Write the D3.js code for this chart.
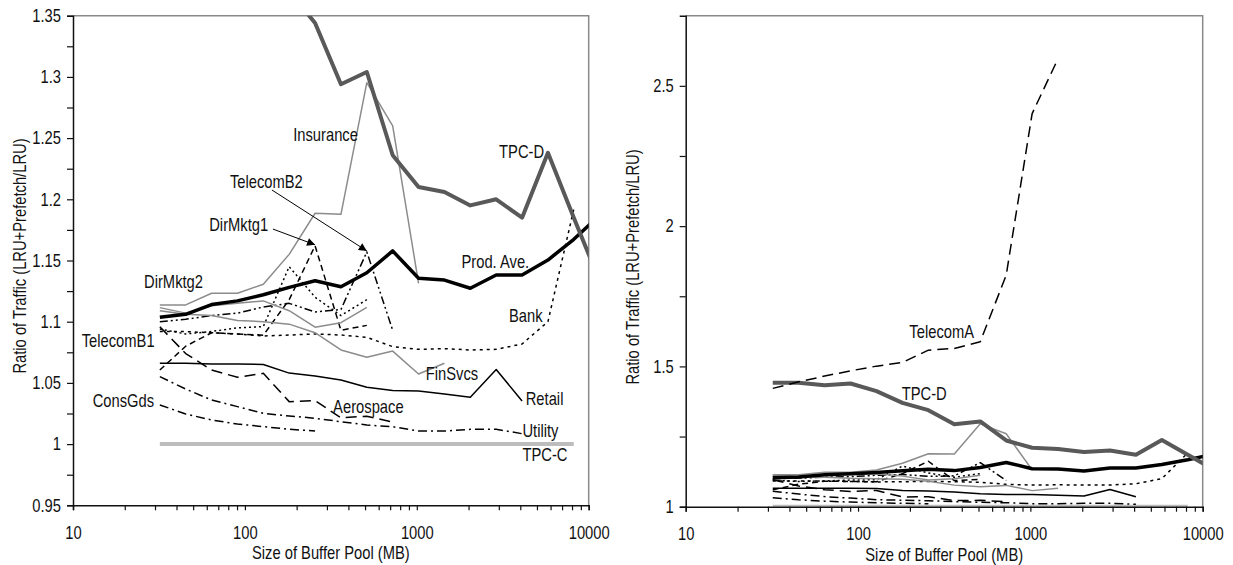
<!DOCTYPE html>
<html>
<head>
<meta charset="utf-8">
<script src="https://cdn.jsdelivr.net/npm/d3@7/dist/d3.min.js"></script>
<style>
  html, body { margin: 0; padding: 0; background: #fff; }
  svg { display: block; }
</style>
</head>
<body>
<svg id="chart" width="1233" height="565"></svg>
<script>
// Buffer pool sizes (MB) at which the traffic ratio was measured
const bufferMB = [32, 45.25, 64, 90.5, 128, 181, 256, 362, 512, 724, 1024, 1448, 2048, 2896, 4096, 5793, 8192, 11585];

// Ratio of traffic (LRU+Prefetch / LRU) per workload, starting at 32 MB
const tpcD      = [1.442, 1.442, 1.433, 1.439, 1.412, 1.370, 1.344, 1.294, 1.304, 1.236, 1.210, 1.206, 1.195, 1.200, 1.185, 1.238, 1.185, 1.133];
const prodAve   = [1.1036, 1.106, 1.114, 1.117, 1.122, 1.128, 1.1335, 1.1286, 1.140, 1.1578, 1.1355, 1.134, 1.1273, 1.1382, 1.1382, 1.1504, 1.1673, 1.187];
const insurance = [1.1137, 1.1137, 1.1232, 1.1232, 1.1306, 1.155, 1.1886, 1.1877, 1.2953, 1.2599, 1.1314];
const dirMktg2  = [1.1115, 1.107, 1.113, 1.115, 1.117, 1.109, 1.0955, 1.0992, 1.1117];
const finSvcs   = [1.109, 1.106, 1.105, 1.101, 1.100, 1.098, 1.091, 1.0769, 1.0709, 1.076, 1.0573, 1.066];
const retail    = [1.066, 1.066, 1.0655, 1.0655, 1.065, 1.058, 1.0556, 1.0524, 1.0464, 1.0437, 1.0434, 1.041, 1.0382, 1.061, 1.0352];
const bank      = [1.0919, 1.0919, 1.091, 1.0899, 1.0883, 1.0891, 1.090, 1.0891, 1.0872, 1.0796, 1.0774, 1.078, 1.0769, 1.0774, 1.0818, 1.100, 1.192];
const utility   = [1.0551, 1.045, 1.036, 1.0306, 1.0251, 1.023, 1.0211, 1.0183, 1.0156, 1.0142, 1.0107, 1.0107, 1.0121, 1.0121, 1.0085];
const consGds   = [1.032, 1.0246, 1.0197, 1.0164, 1.0143, 1.0121, 1.0107];
const aerospace = [1.0959, 1.074, 1.0605, 1.0546, 1.0578, 1.0347, 1.0355, 1.0215, 1.0228, 1.018];
const dirMktg1  = [1.0605, 1.080, 1.091, 1.090, 1.089, 1.118, 1.162, 1.093, 1.097];
const telecomB1 = [1.094, 1.090, 1.092, 1.095, 1.096, 1.145, 1.120, 1.105, 1.118];
const telecomB2 = [1.100, 1.102, 1.105, 1.107, 1.112, 1.115, 1.108, 1.110, 1.157, 1.093];
const tpcC      = [1, 1, 1, 1, 1, 1, 1, 1, 1, 1, 1, 1, 1, 1, 1, 1, 1];
const telecomA  = [1.4217, 1.445, 1.4655, 1.4844, 1.501, 1.514, 1.558, 1.564, 1.588, 1.825, 2.401, 2.597];

// Axis ticks
const xMajorTicks = [10, 100, 1000, 10000];
const xMinorTicks = [20, 30, 40, 50, 60, 70, 80, 90, 200, 300, 400, 500, 600, 700, 800, 900,
                     2000, 3000, 4000, 5000, 6000, 7000, 8000, 9000];
const yLeftTicks  = [0.95, 1, 1.05, 1.1, 1.15, 1.2, 1.25, 1.3, 1.35];
const yLeftMinor  = [0.975, 1.025, 1.075, 1.125, 1.175, 1.225, 1.275, 1.325];
const yRightTicks = [1, 1.5, 2, 2.5];
const yRightMinor = [1.25, 1.75, 2.25];

const xTitle = "Size of Buffer Pool (MB)";
const yTitle = "Ratio of Traffic (LRU+Prefetch/LRU)";

// Series styling
const styles = {
  tpcC:      { color: "#bdbdbd", width: 4,   dash: null },
  consGds:   { color: "#000",    width: 1.5, dash: "9,4,2,4" },
  utility:   { color: "#000",    width: 1.5, dash: "9,4,2,4" },
  aerospace: { color: "#000",    width: 1.5, dash: "11,6" },
  retail:    { color: "#000",    width: 1.5, dash: null },
  bank:      { color: "#000",    width: 1.5, dash: "3,4" },
  telecomB1: { color: "#000",    width: 1.5, dash: "2,3" },
  dirMktg1:  { color: "#000",    width: 1.5, dash: "6,4" },
  telecomB2: { color: "#000",    width: 1.5, dash: "8,3,2,3,2,3" },
  finSvcs:   { color: "#8c8c8c", width: 1.5, dash: null },
  dirMktg2:  { color: "#8c8c8c", width: 1.5, dash: null },
  insurance: { color: "#8c8c8c", width: 1.5, dash: null },
  telecomA:  { color: "#000",    width: 1.5, dash: "11,6" },
  prodAve:   { color: "#000",    width: 3.5, dash: null },
  tpcD:      { color: "#595959", width: 4,   dash: null }
};

const seriesLeft = [
  ["tpcC", tpcC], ["consGds", consGds], ["utility", utility], ["aerospace", aerospace],
  ["retail", retail], ["bank", bank], ["telecomB1", telecomB1], ["dirMktg1", dirMktg1],
  ["telecomB2", telecomB2], ["finSvcs", finSvcs], ["dirMktg2", dirMktg2],
  ["insurance", insurance], ["prodAve", prodAve], ["tpcD", tpcD]
];
const seriesRight = seriesLeft.concat([["telecomA", telecomA]]);

// Font: narrow sans if present, otherwise a horizontally condensed regular sans
function hasFont(name) {
  const c = document.createElement("canvas").getContext("2d");
  const s = "Size of Buffer Pool (MB) 0123456789";
  c.font = "40px monospace";
  const w0 = c.measureText(s).width;
  c.font = `40px "${name}", monospace`;
  return Math.abs(c.measureText(s).width - w0) > 0.5;
}
const narrow = hasFont("Liberation Sans Narrow");
const FONT = narrow ? "'Liberation Sans Narrow', 'Arial Narrow', sans-serif" : "'Liberation Sans', Arial, sans-serif";
const SX = narrow ? 1 : 0.82;
const FS = 18;

const svg = d3.select("#chart");

function addText(g, str, x, y, anchor, rotate) {
  const t = g.append("g")
    .attr("transform", `translate(${x},${y})` + (rotate ? ` rotate(${rotate})` : "") + ` scale(${SX},1)`);
  t.append("text")
    .attr("text-anchor", anchor || "start")
    .attr("font-family", FONT)
    .attr("font-size", FS)
    .attr("fill", "#111")
    .text(str);
  return t;
}

function panel(opts) {
  const { x0, x1, y0, y1, yDomain, yTicks, yMinor, yFmt, series, id } = opts;
  const x = d3.scaleLog().domain([10, 10000]).range([x0, x1]);
  const y = d3.scaleLinear().domain(yDomain).range([y1, y0]);
  const g = svg.append("g");

  g.append("clipPath").attr("id", id)
    .append("rect").attr("x", x0).attr("y", y0).attr("width", x1 - x0).attr("height", y1 - y0);

  // Plot frame (top and right edges)
  g.append("path")
    .attr("d", `M${x0},${y0}H${x1}V${y1}`)
    .attr("fill", "none").attr("stroke", "#8a8a8a").attr("stroke-width", 1.5);

  // Lines
  const line = d3.line().x((d, i) => x(bufferMB[i])).y(d => y(d));
  const lg = g.append("g").attr("clip-path", `url(#${id})`);
  series.forEach(([key, vals]) => {
    const s = styles[key];
    lg.append("path")
      .datum(vals)
      .attr("d", line)
      .attr("fill", "none")
      .attr("stroke", s.color)
      .attr("stroke-width", s.width)
      .attr("stroke-linejoin", "round")
      .attr("stroke-dasharray", s.dash);
  });

  // Y axis
  const ya = g.append("g").attr("transform", `translate(${x0},0)`)
    .call(d3.axisLeft(y).tickValues(yTicks).tickSize(6).tickPadding(6).tickFormat(yFmt));
  g.append("g").attr("transform", `translate(${x0},0)`)
    .call(d3.axisLeft(y).tickValues(yMinor).tickSize(6).tickFormat(""))
    .select(".domain").remove();

  // X axis
  const xa = g.append("g").attr("transform", `translate(0,${y1})`)
    .call(d3.axisBottom(x).tickValues(xMajorTicks).tickSize(5).tickPadding(16).tickFormat(d3.format("d")));
  g.append("g").attr("transform", `translate(0,${y1})`)
    .call(d3.axisBottom(x).tickValues(xMinorTicks).tickSize(5).tickFormat(""))
    .select(".domain").remove();

  g.selectAll(".domain").attr("stroke", "#111").attr("stroke-width", 1.5);
  g.selectAll(".tick line").attr("stroke", "#111").attr("stroke-width", 1.2);
  [ya, xa].forEach(a => a.selectAll(".tick text")
    .attr("font-family", FONT).attr("font-size", FS).attr("fill", "#111")
    .attr("transform", function () {
      const tx = +d3.select(this).attr("x") || 0;
      return `translate(${tx * (1 - SX)},0) scale(${SX},1)`;
    }));

  // Axis titles
  addText(g, xTitle, (x0 + x1) / 2, y1 + 54, "middle");
  addText(g, yTitle, x0 - 47, opts.yTitleY, "middle", -90);

  return { g, x, y };
}

// Left panel: detail view
const L = panel({
  id: "clipL", x0: 73, x1: 588.7, y0: 15.7, y1: 505.3,
  yDomain: [0.95, 1.35], yTicks: yLeftTicks, yMinor: yLeftMinor,
  yFmt: d => d3.format("")(+d.toFixed(2)), series: seriesLeft, yTitleY: 256
});

// Right panel: full range including TelecomA
const R = panel({
  id: "clipR", x0: 685.7, x1: 1202.7, y0: 15.7, y1: 506.7,
  yDomain: [1, 2.75], yTicks: yRightTicks, yMinor: yRightMinor,
  yFmt: d => d3.format("")(d), series: seriesRight, yTitleY: 267
});

// Series labels (positioned in data units: MB, ratio)
const leftLabels = [
  ["Insurance", 191, 1.2473], ["TelecomB2", 81.8, 1.2092], ["DirMktg1", 62.0, 1.1737],
  ["DirMktg2", 25.9, 1.1275], ["TelecomB1", 11.23, 1.0793], ["ConsGds", 13.02, 1.0303],
  ["TPC-D", 3010, 1.2337], ["Prod. Ave.", 1819, 1.1439], ["Bank", 3440, 1.0998],
  ["FinSvcs", 1128, 1.0524], ["Retail", 4302, 1.032], ["Aerospace", 326, 1.0258],
  ["Utility", 4117, 1.0062], ["TPC-C", 4117, 0.9858]
];
leftLabels.forEach(([t, mb, v]) => addText(L.g, t, L.x(mb), L.y(v), "start"));

const rightLabels = [["TelecomA", 198.5, 1.6008], ["TPC-D", 179.3, 1.38]];
rightLabels.forEach(([t, mb, v]) => addText(R.g, t, R.x(mb), R.y(v), "start"));

// Callout arrows to the peaks of DirMktg1 and TelecomB2
svg.append("defs").append("marker")
  .attr("id", "head").attr("viewBox", "0 0 10 10").attr("refX", 10).attr("refY", 5)
  .attr("markerWidth", 10).attr("markerHeight", 8).attr("markerUnits", "userSpaceOnUse")
  .attr("orient", "auto")
  .append("path").attr("d", "M0,0L10,5L0,10Z").attr("fill", "#000");

const arrows = [
  [145.5, 1.1757, bufferMB[6], dirMktg1[6]],
  [143.6, 1.2076, bufferMB[8], telecomB2[8]]
];
arrows.forEach(([mb0, v0, mb1, v1]) => {
  L.g.append("line")
    .attr("x1", L.x(mb0)).attr("y1", L.y(v0))
    .attr("x2", L.x(mb1)).attr("y2", L.y(v1) - 1)
    .attr("stroke", "#000").attr("stroke-width", 1)
    .attr("marker-end", "url(#head)");
});
</script>
</body>
</html>
